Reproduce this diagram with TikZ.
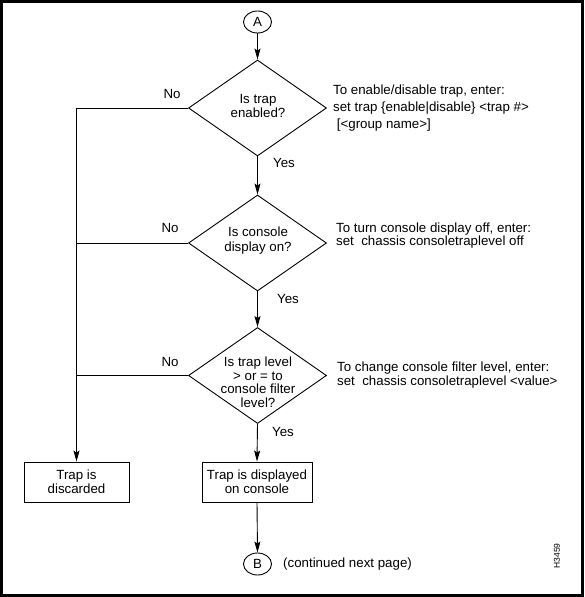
\documentclass[tikz,border=0pt]{standalone}
\usepackage{fontspec}
\setmainfont{Liberation Sans}
\usetikzlibrary{arrows.meta,shapes.geometric}
\begin{document}
\begin{tikzpicture}[x=1pt,y=-1pt,
  base/.style={line width=0.9pt},
  dia/.style={base, draw, diamond, minimum width=138pt, minimum height=96pt, inner sep=0pt},
  dtext/.style={inner sep=0pt, align=center, font=\fontsize{13.3}{14}\selectfont},
  conn/.style={base, draw, ellipse, minimum width=28pt, minimum height=22pt, inner sep=0pt, font=\fontsize{13.3}{14}\selectfont},
  proc/.style={base, draw, rectangle, minimum height=40pt, inner sep=0pt, align=center, font=\fontsize{13.3}{14}\selectfont},
  lbl/.style={inner sep=0pt, font=\fontsize{13.3}{14}\selectfont},
  note/.style={inner sep=0pt, anchor=west, align=left},
  flow/.style={base, -{Stealth[length=11pt,width=6pt,inset=2pt]}},
  plain/.style={base}
]
\useasboundingbox (0,0) rectangle (584,597);
\draw[line width=3pt] (1.5,1.5) rectangle (582.5,595.5);

% connectors A and B
\node[conn] (A) at (257.5,22) {A};
\node[conn] (B) at (257.5,564) {B};

% decisions
\node[dia] (d1) at (257.5,108) {};
\node[dtext] (t1) at (258,106) {Is trap\\enabled?};
\node[dia] (d2) at (257.5,243) {};
\node[dtext, font=\fontsize{13.3}{15}\selectfont] (t2) at (258,241) {Is console\\display on?};
\node[dia] (d3) at (257.5,375.5) {};
\node[dtext, font=\fontsize{13.3}{13.5}\selectfont] (t3) at (258,382) {Is trap level\\> or = to\\console filter\\level?};

% processes
\node[proc, minimum width=105pt] (discard) at (76.5,482) {Trap is\\discarded};
\node[proc, minimum width=110pt] (show) at (257,482) {Trap is displayed\\on console};

% notes
\node[note, font=\fontsize{13.3}{17}\selectfont] (n1) at (333,108) {To enable/disable trap, enter:\\set trap \{enable|disable\} <trap \#>\\\ [<group name>]};
\node[note, font=\fontsize{13.3}{13}\selectfont] (n2) at (336,236) {To turn console display off, enter:\\set\ \ chassis consoletraplevel off};
\node[note, font=\fontsize{13.3}{14}\selectfont] (n3) at (337,375) {To change console filter level, enter:\\set\ \ chassis consoletraplevel <value>};
\node[note, font=\fontsize{13.3}{14}\selectfont] (cont) at (283,564) {(continued next page)};
\node[inner sep=0pt, rotate=90, font=\fontsize{8.5}{9}\selectfont] (fig) at (557,556) {H3459};

% labels
\node[lbl] (no1) at (172,94) {No};
\node[lbl] (no2) at (170,228) {No};
\node[lbl] (no3) at (170,362) {No};
\node[lbl] (yes1) at (284,163) {Yes};
\node[lbl] (yes2) at (288,299) {Yes};
\node[lbl] (yes3) at (283,432) {Yes};

% flow
\draw[flow] (A.south) -- (d1.north);
\draw[flow] (d1.south) -- (d2.north);
\draw[flow] (d2.south) -- (d3.north);
\draw[flow] (d3.south) -- (show.north);
\draw[flow] (show.south) -- (B.north);
\draw[flow] (d1.west) -| (discard.north);
\draw[plain] (d2.west) -- (d2.west -| discard.north);
\draw[plain] (d3.west) -- (d3.west -| discard.north);
\end{tikzpicture}
\end{document}
